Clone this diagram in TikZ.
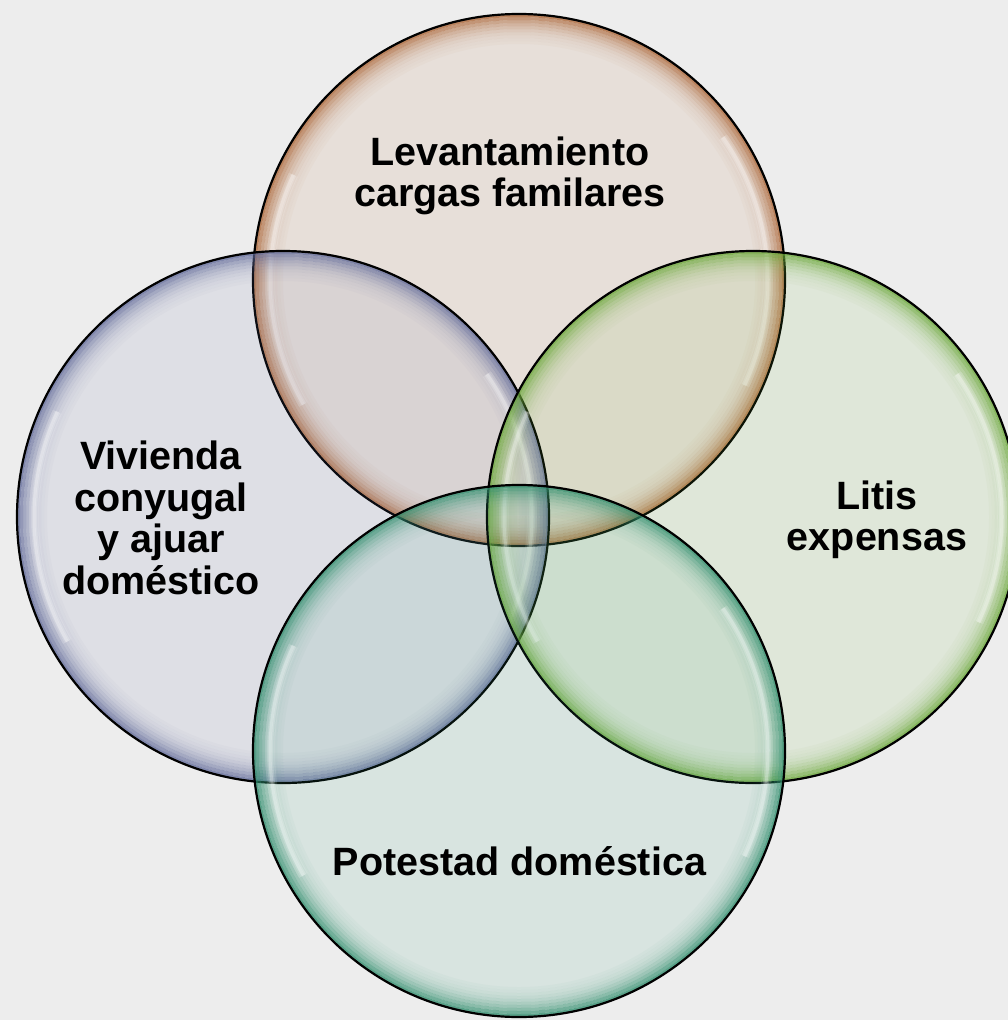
\documentclass[tikz,border=0pt]{standalone}
\usepackage{fontspec}
\setmainfont{Liberation Sans}
\setlength{\lineskiplimit}{-100pt}
\definecolor{bgC}{RGB}{237,237,237}
\definecolor{orangeC}{RGB}{190,112,60}
\definecolor{blueC}{RGB}{108,118,170}
\definecolor{greenC}{RGB}{118,186,62}
\definecolor{tealC}{RGB}{52,156,120}
\newcommand\mybubble[3]{%
  \fill[#3, fill opacity=0.11] (#1,#2) circle[radius=266];
  \foreach \k/\o in {1/0.75,2/0.6,3/0.46,4/0.35,5/0.26,6/0.18,7/0.12,8/0.08,9/0.05,10/0.03}{%
    \draw[#3!90!black, opacity=\o, line width=3] (#1,#2) circle[radius={267.5-3*\k}];
  }
  \foreach \w/\o in {10/0.12,6/0.18,3/0.25}{%
    \draw[white, opacity=\o, line width=\w] ([shift={(150:249)}]#1,#2) arc[start angle=150, end angle=205, radius=249];
    \draw[white, opacity=\o, line width=\w] ([shift={(-35:249)}]#1,#2) arc[start angle=-35, end angle=25, radius=249];
  }
  \draw[black, line width=2.2] (#1,#2) circle[radius=266];
}
\tikzset{lbl/.style={font=\bfseries\fontsize{39.5}{41.5}\selectfont, align=center, text=black, inner sep=0pt}}
\begin{document}
\begin{tikzpicture}[x=1pt,y=-1pt]
\useasboundingbox (0,0) rectangle (1008,1020);
\clip (0,0) rectangle (1008,1020);
\fill[bgC] (0,0) rectangle (1008,1020);
\mybubble{519}{280}{orangeC}
\mybubble{283}{517}{blueC}
\mybubble{753}{517}{greenC}
\mybubble{519}{751}{tealC}
\node[lbl] (top) at (510,176) {Levantamiento\\cargas familares};
\node[lbl] (left) at (161,518) {Vivienda\\conyugal\\y ajuar\\doméstico};
\node[lbl] (right) at (877,520) {Litis\\expensas};
\node[lbl, anchor=base] (bottom) at (519.5,875) {Potestad doméstica};
\end{tikzpicture}
\end{document}
